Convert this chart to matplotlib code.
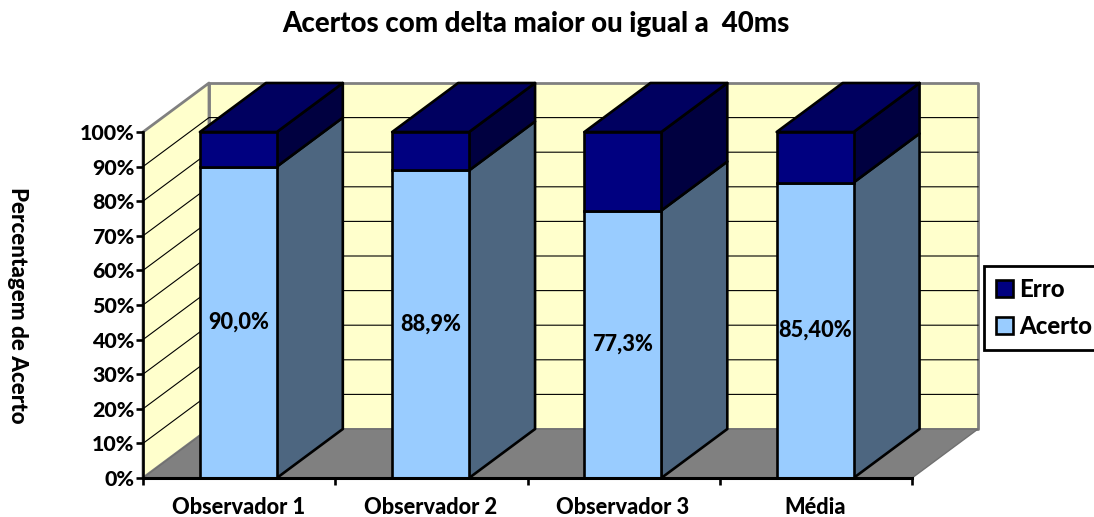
import matplotlib
matplotlib.use("Agg")
import matplotlib.pyplot as plt
from matplotlib.patches import Polygon

categories = ["Observador 1", "Observador 2", "Observador 3", "Média"]
acerto = [90.0, 88.9, 77.3, 85.4]
erro = [10.0, 11.1, 22.7, 14.6]
value_labels = ["90,0%", "88,9%", "77,3%", "85,40%"]
y_ticks = list(range(0, 101, 10))
y_tick_labels = [f"{v}%" for v in y_ticks]

W, H = 1094, 517
L, R, T, B = 143, 978, 83, 478
PX_CAT = (912 - 143) / 4
PX_PCT = (478 - 132) / 100
DX = 66 / PX_CAT      # depth offset in category units
DY = 49 / PX_PCT      # depth offset in percent units
BAR_W = 0.40
BAR_C = 0.496
LW = 1.9

WALL = "#FFFFCC"
FLOOR = "#808080"
FRONT_A, SIDE_A = "#99CCFF", "#4D6680"
FRONT_E, SIDE_E, TOP_E = "#000080", "#000040", "#000060"

plt.rcParams["font.family"] = ["Lato", "DejaVu Sans"]
plt.rcParams["font.weight"] = 900

fig = plt.figure(figsize=(W / 100, H / 100), dpi=100)
ax = fig.add_axes([L / W, 1 - B / H, (R - L) / W, (B - T) / H])
ax.set_xlim(0, (R - L) / PX_CAT)
ax.set_ylim(0, (B - T) / PX_PCT)
ax.patch.set_visible(False)

def poly(pts, fc, ec="none", lw=0.0, z=1.0):
    ax.add_patch(Polygon(pts, closed=True, facecolor=fc, edgecolor=ec, linewidth=lw,
                         zorder=z, clip_on=False, joinstyle="round"))

n = len(categories)
# walls and floor
poly([(DX, DY), (n + DX, DY), (n + DX, 100 + DY), (DX, 100 + DY)], WALL, "#808080", 2.0, 1)
poly([(0, 0), (DX, DY), (DX, 100 + DY), (0, 100)], WALL, "#808080", 2.0, 1)
poly([(0, 0), (n, 0), (n + DX, DY), (DX, DY)], FLOOR, "#707070", 1.0, 1.5)

# gridlines
for v in y_ticks[1:-1]:
    ax.plot([0, DX, n + DX], [v, v + DY, v + DY], color="black", lw=0.8, zorder=1.2, clip_on=False)

# bars
for i in range(n):
    x0 = i + BAR_C - BAR_W / 2
    x1 = x0 + BAR_W
    a, e = acerto[i], erro[i]
    t = a + e
    poly([(x1, 0), (x1 + DX, DY), (x1 + DX, a + DY), (x1, a)], SIDE_A, "black", LW, 2)
    poly([(x1, a), (x1 + DX, a + DY), (x1 + DX, t + DY), (x1, t)], SIDE_E, "black", LW, 2)
    poly([(x0, t), (x1, t), (x1 + DX, t + DY), (x0 + DX, t + DY)], TOP_E, "black", LW, 2)

pos = [i + BAR_C for i in range(n)]
b_a = ax.bar(pos, acerto, BAR_W, color=FRONT_A, edgecolor="black", linewidth=LW,
             zorder=3, label="Acerto", clip_on=False)
b_e = ax.bar(pos, erro, BAR_W, bottom=acerto, color=FRONT_E, edgecolor="black", linewidth=LW,
             zorder=3, label="Erro", clip_on=False)

for p, a, s in zip(pos, acerto, value_labels):
    ax.text(p, a / 2, s, ha="center", va="center", fontsize=15.7, color="black", zorder=5)

# axes
for s in ("top", "right"):
    ax.spines[s].set_visible(False)
ax.spines["left"].set_bounds(0, 100)
ax.spines["bottom"].set_bounds(0, n)
ax.spines["left"].set_linewidth(LW)
ax.spines["bottom"].set_linewidth(LW + 0.3)
ax.spines["left"].set_zorder(6)
ax.spines["bottom"].set_zorder(6)
ax.set_yticks(y_ticks, y_tick_labels, fontsize=15.4)
ax.set_xticks(range(n + 1), [""] * (n + 1))
ax.set_xticks(pos, categories, minor=True, fontsize=15.7)
ax.tick_params(axis="y", length=5, width=LW, pad=1)
ax.tick_params(axis="x", which="major", length=5, width=LW)
ax.tick_params(axis="x", which="minor", length=0, pad=14)

fig.text(536 / W, 1 - 24 / H, "Acertos com delta maior ou igual a  40ms",
         ha="center", va="center", fontsize=19.9)
fig.text(17 / W, 1 - 305 / H, "Percentagem de Acerto", rotation=270,
         ha="center", va="center", fontsize=16.1)

leg = fig.legend(handles=[b_e, b_a], labels=["Erro", "Acerto"],
                 loc="lower left",
                 bbox_to_anchor=(984 / W, 1 - 350 / H),
                 borderaxespad=0, borderpad=0.5, fancybox=False, framealpha=1,
                 edgecolor="black", prop={"size": 17.2, "weight": 900},
                 handlelength=0.72, handleheight=0.72, handletextpad=0.25, labelspacing=0.6)
leg.get_frame().set_linewidth(2.0)

fig.savefig("out.png", dpi=100)
